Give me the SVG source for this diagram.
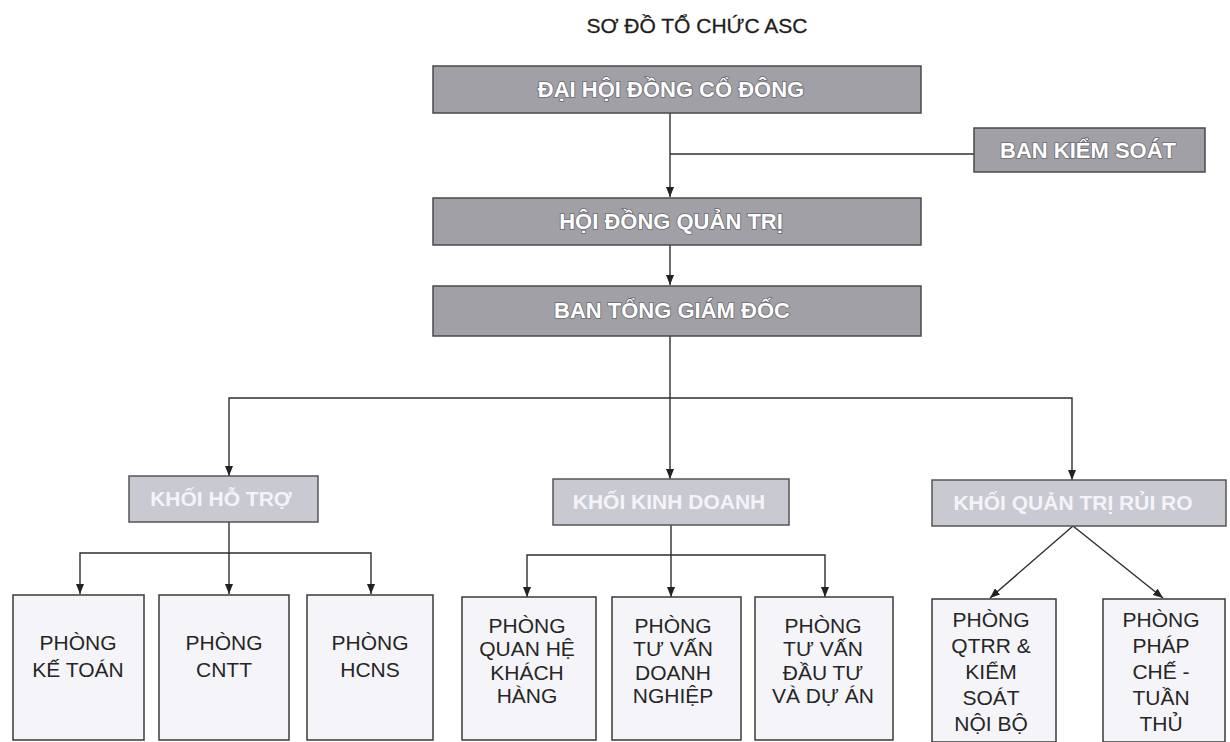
<svg xmlns="http://www.w3.org/2000/svg" width="1230" height="742" viewBox="0 0 1230 742">
  <style>
    .title { font-family: "Liberation Sans", Arial, sans-serif; font-size: 21px; fill: #1e1e1e; stroke: #1e1e1e; stroke-width: 0.3; text-anchor: middle; }
    .top rect { fill: #a0a0a6; stroke: #4a4a4a; stroke-width: 1.5; }
    .top text { font-family: "Liberation Sans", Arial, sans-serif; font-size: 22px; font-weight: bold; fill: #ffffff; stroke: #6a6a70; stroke-width: 1.6; paint-order: stroke; text-anchor: middle; }
    .blk rect { fill: #c9c9d1; stroke: #555; stroke-width: 1.5; }
    .blk text { font-family: "Liberation Sans", Arial, sans-serif; font-size: 21px; font-weight: bold; fill: #f4f4f8; text-anchor: middle; }
    .dep rect { fill: #f5f5f9; stroke: #3a3a3a; stroke-width: 1.5; }
    .dep text { font-family: "Liberation Sans", Arial, sans-serif; font-size: 21px; fill: #262626; text-anchor: middle; }
    .conn path { fill: none; stroke: #2e2e2e; stroke-width: 1.4; }
  </style>
  <defs>
    <marker id="ah" viewBox="0 0 10 8" refX="10" refY="4" markerWidth="10" markerHeight="8" markerUnits="userSpaceOnUse" orient="auto">
      <path d="M0,0 L10,4 L0,8 z" fill="#222"/>
    </marker>
  </defs>
  <rect width="1230" height="742" fill="#ffffff"/>

  <text class="title" x="697" y="33">SƠ ĐỒ TỔ CHỨC ASC</text>

  <g class="conn" id="connectors">
    <path d="M670,113 V197" marker-end="url(#ah)"/>
    <path d="M670,154 H974"/>
    <path d="M670,245 V285" marker-end="url(#ah)"/>
    <path d="M670,336 V479" marker-end="url(#ah)"/>
    <path d="M670,398 H229 V476" marker-end="url(#ah)"/>
    <path d="M670,398 H1072 V480" marker-end="url(#ah)"/>
    <path d="M229,522 V594" marker-end="url(#ah)"/>
    <path d="M229,553 H80 V594" marker-end="url(#ah)"/>
    <path d="M229,553 H371 V594" marker-end="url(#ah)"/>
    <path d="M671,525 V597" marker-end="url(#ah)"/>
    <path d="M671,555 H527 V597" marker-end="url(#ah)"/>
    <path d="M671,555 H825 V597" marker-end="url(#ah)"/>
    <path d="M1073,526 L990,598" marker-end="url(#ah)"/>
    <path d="M1073,526 L1163,598" marker-end="url(#ah)"/>
  </g>

  <g class="top" id="dhdcd">
    <rect x="433" y="66" width="488" height="47"/>
    <text x="671" y="97">ĐẠI HỘI ĐỒNG CỔ ĐÔNG</text>
  </g>
  <g class="top" id="bks">
    <rect x="974" y="128" width="231" height="44"/>
    <text x="1088" y="158">BAN KIỂM SOÁT</text>
  </g>
  <g class="top" id="hdqt">
    <rect x="433" y="198" width="488" height="47"/>
    <text x="671" y="229">HỘI ĐỒNG QUẢN TRỊ</text>
  </g>
  <g class="top" id="btgd">
    <rect x="433" y="286" width="488" height="50"/>
    <text x="672" y="318">BAN TỔNG GIÁM ĐỐC</text>
  </g>

  <g class="blk" id="khoi-ho-tro">
    <rect x="129" y="476" width="189" height="46"/>
    <text x="221" y="506">KHỐI HỖ TRỢ</text>
  </g>
  <g class="blk" id="khoi-kinh-doanh">
    <rect x="553" y="479" width="236" height="46"/>
    <text x="669" y="509">KHỐI KINH DOANH</text>
  </g>
  <g class="blk" id="khoi-qtrr">
    <rect x="932" y="480" width="294" height="46"/>
    <text x="1073" y="510">KHỐI QUẢN TRỊ RỦI RO</text>
  </g>

  <g class="dep" id="p-ke-toan">
    <rect x="13" y="595" width="131" height="145"/>
    <text x="78" y="650">PHÒNG</text>
    <text x="78" y="677">KẾ TOÁN</text>
  </g>
  <g class="dep" id="p-cntt">
    <rect x="159" y="595" width="130" height="145"/>
    <text x="224" y="650">PHÒNG</text>
    <text x="224" y="677">CNTT</text>
  </g>
  <g class="dep" id="p-hcns">
    <rect x="307" y="595" width="126" height="145"/>
    <text x="370" y="650">PHÒNG</text>
    <text x="370" y="677">HCNS</text>
  </g>
  <g class="dep" id="p-qhkh">
    <rect x="462" y="597" width="134" height="143"/>
    <text x="527" y="633">PHÒNG</text>
    <text x="527" y="656">QUAN HỆ</text>
    <text x="527" y="680">KHÁCH</text>
    <text x="527" y="703">HÀNG</text>
  </g>
  <g class="dep" id="p-tvdn">
    <rect x="612" y="597" width="129" height="143"/>
    <text x="673" y="633">PHÒNG</text>
    <text x="673" y="656">TƯ VẤN</text>
    <text x="673" y="680">DOANH</text>
    <text x="673" y="703">NGHIỆP</text>
  </g>
  <g class="dep" id="p-tvdt">
    <rect x="755" y="597" width="138" height="143"/>
    <text x="823" y="633">PHÒNG</text>
    <text x="823" y="656">TƯ VẤN</text>
    <text x="823" y="680">ĐẦU TƯ</text>
    <text x="823" y="703">VÀ DỰ ÁN</text>
  </g>
  <g class="dep" id="p-qtrr">
    <rect x="932" y="599" width="124" height="143"/>
    <text x="991" y="627">PHÒNG</text>
    <text x="991" y="653">QTRR &amp;</text>
    <text x="991" y="679">KIỂM</text>
    <text x="991" y="705">SOÁT</text>
    <text x="991" y="731">NỘI BỘ</text>
  </g>
  <g class="dep" id="p-phap-che">
    <rect x="1103" y="599" width="122" height="143"/>
    <text x="1161" y="627">PHÒNG</text>
    <text x="1161" y="653">PHÁP</text>
    <text x="1161" y="679">CHẾ -</text>
    <text x="1161" y="705">TUẦN</text>
    <text x="1161" y="731">THỦ</text>
  </g>
</svg>
